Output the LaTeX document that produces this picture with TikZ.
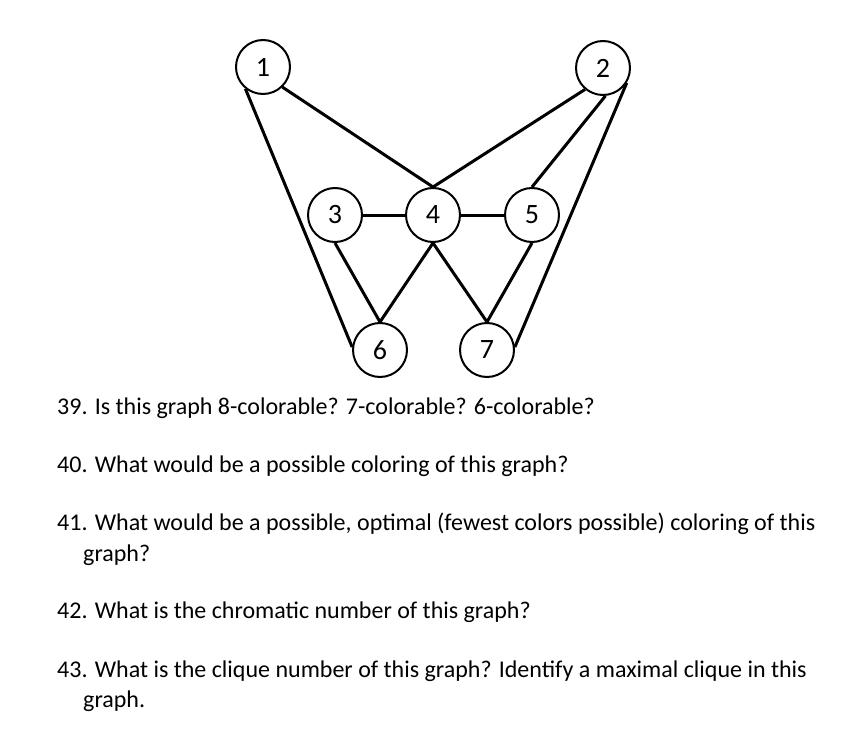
\documentclass[tikz,border=0pt]{standalone}
\usepackage{fontspec}
\setmainfont{Carlito}
\begin{document}
\begin{tikzpicture}[x=1pt,y=-1pt,
  vtx/.style={circle,draw,line width=2pt,minimum size=54pt,inner sep=0pt,font=\fontsize{28}{30}\selectfont},
  edge/.style={line width=3pt},
  q/.style={anchor=west,font=\fontsize{24}{28}\selectfont,inner sep=0pt}]
\useasboundingbox (0,0) rectangle (865,733);
\node[vtx] (n1) at (263,67) {1};
\node[vtx] (n2) at (603,68) {2};
\node[vtx] (n3) at (335,215) {3};
\node[vtx] (n4) at (433,215) {4};
\node[vtx] (n5) at (532,215) {5};
\node[vtx] (n6) at (380,350) {6};
\node[vtx] (n7) at (487,350) {7};
\draw[edge] (n1.314) -- (n4.north);
\draw[edge] (n1.231) -- (n6.174);
\draw[edge] (n2.230) -- (n4.north);
\draw[edge] (n2.275) -- (n5.north);
\draw[edge] (n2.328) -- (n7.6);
\draw[edge] (n3.east) -- (n4.west);
\draw[edge] (n4.east) -- (n5.west);
\draw[edge] (n3.south) -- (n6.north);
\draw[edge] (n4.south) -- (n6.north);
\draw[edge] (n4.south) -- (n7.north);
\draw[edge] (n5.south) -- (n7.north);
\node[q] (t39) at (57,408) {39. Is this graph 8-colorable? 7-colorable? 6-colorable?};
\node[q] (t40) at (57,466) {40. What would be a possible coloring of this graph?};
\node[q] (t41) at (57,524) {41. What would be a possible, optimal (fewest colors possible) coloring of this};
\node[q] (t41b) at (83,555) {graph?};
\node[q] (t42) at (57,612) {42. What is the chromatic number of this graph?};
\node[q] (t43) at (57,671) {43. What is the clique number of this graph? Identify a maximal clique in this};
\node[q] (t43b) at (83,701) {graph.};
\end{tikzpicture}
\end{document}
